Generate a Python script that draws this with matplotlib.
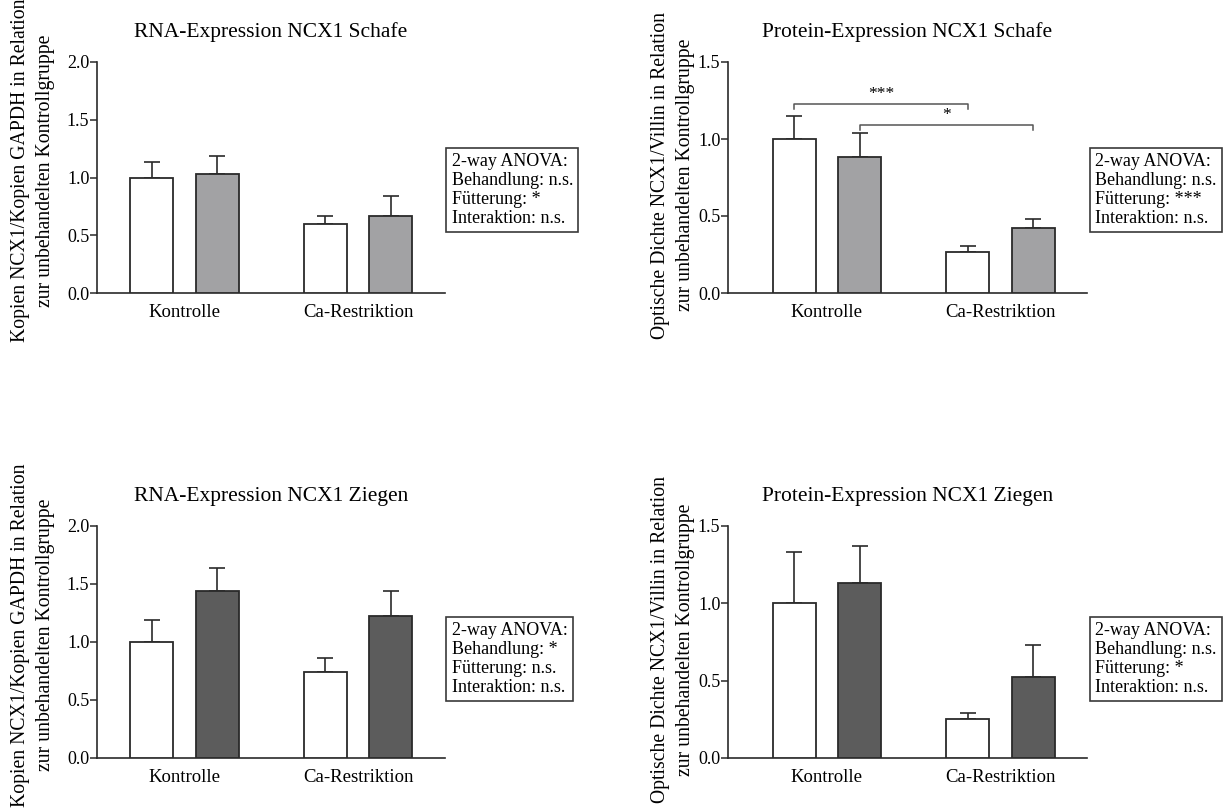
import numpy as np
import matplotlib
matplotlib.use("Agg")
import matplotlib.pyplot as plt

plt.rcParams['font.family'] = ['Liberation Serif', 'DejaVu Serif']

groups = ['Kontrolle', 'Ca-Restriktion']

# order per group: unbehandelt (white), behandelt (gray)
rna_schafe = [1.00, 1.03, 0.60, 0.67]
rna_schafe_err = [0.13, 0.16, 0.07, 0.17]
prot_schafe = [1.00, 0.88, 0.263, 0.42]
prot_schafe_err = [0.15, 0.156, 0.041, 0.063]
rna_ziegen = [1.00, 1.44, 0.743, 1.221]
rna_ziegen_err = [0.19, 0.20, 0.121, 0.219]
prot_ziegen = [1.00, 1.133, 0.255, 0.523]
prot_ziegen_err = [0.334, 0.24, 0.039, 0.209]

anova_rna_schafe = ['2-way ANOVA:', 'Behandlung: n.s.', 'Fütterung: *', 'Interaktion: n.s.']
anova_prot_schafe = ['2-way ANOVA:', 'Behandlung: n.s.', 'Fütterung: ***', 'Interaktion: n.s.']
anova_rna_ziegen = ['2-way ANOVA:', 'Behandlung: *', 'Fütterung: n.s.', 'Interaktion: n.s.']
anova_prot_ziegen = ['2-way ANOVA:', 'Behandlung: n.s.', 'Fütterung: *', 'Interaktion: n.s.']

# significance brackets (bar index a, bar index b, height, label)
sig_prot_schafe = [(0, 2, 1.23, '***'), (1, 3, 1.094, '*')]

lbl_rna = 'Kopien NCX1/Kopien GAPDH in Relation\nzur unbehandelten Kontrollgruppe'
lbl_prot = 'Optische Dichte NCX1/Villin in Relation\nzur unbehandelten Kontrollgruppe'

W, H = 1226, 809
fig = plt.figure(figsize=(W / 100, H / 100), dpi=100)

base_x = np.array([1.27, 2.79, 5.31, 6.83])
edge = '#2a2a2a'


def px_rect(x0, y_top, x1, y_bot):
    return [x0 / W, 1 - y_bot / H, (x1 - x0) / W, (y_bot - y_top) / H]


def panel(rect, title, vals, errs, ymax, ylab, fill, anova, box_xy, shift, xmax,
          lab_xy, sig=None):
    ax = fig.add_axes(rect)
    xpos = base_x + shift
    colors = ['white', fill, 'white', fill]
    ax.bar(xpos, vals, width=1.0, color=colors, edgecolor=edge, linewidth=1.3, zorder=3)
    ax.errorbar(xpos, vals, yerr=[np.zeros(4), errs], fmt='none', ecolor=edge,
                elinewidth=1.2, capsize=5.5, capthick=1.2, zorder=2)
    ax.set_xlim(0, xmax)
    ax.set_ylim(0, ymax)
    ticks = np.arange(0, ymax + 0.01, 0.5)
    ax.set_yticks(ticks)
    ax.set_yticklabels([f'{v:.1f}' for v in ticks])
    ax.set_xticks([(xpos[0] + xpos[1]) / 2, (xpos[2] + xpos[3]) / 2])
    ax.set_xticklabels(groups)
    ax.tick_params(axis='x', length=0, pad=8, labelsize=13.5)
    ax.tick_params(axis='y', length=5, width=1.1, color=edge, pad=0.5, labelsize=13)
    for s in ['top', 'right']:
        ax.spines[s].set_visible(False)
    for s in ['left', 'bottom']:
        ax.spines[s].set_color(edge)
        ax.spines[s].set_linewidth(1.2)
    ax.set_title(title, fontsize=15.5, pad=18)
    ax.set_ylabel(lbl_rna if ylab == 'rna' else lbl_prot, fontsize=14.2, linespacing=1.4)
    ax.yaxis.set_label_coords(*lab_xy)
    if sig:
        for a, b, h, txt in sig:
            ax.plot([xpos[a], xpos[a], xpos[b], xpos[b]], [h - 0.037, h, h, h - 0.037],
                    color='#555555', lw=1.1, zorder=4)
            ax.text((xpos[a] + xpos[b]) / 2, h + 0.01, txt, ha='center', va='bottom',
                    fontsize=12.5)
    fig.text(box_xy[0] / W, 1 - box_xy[1] / H, '\n'.join(anova), fontsize=13,
             ha='left', va='center', linespacing=1.15,
             bbox=dict(boxstyle='square,pad=0.3', fc='white', ec='#3a3a3a', lw=1.2))
    return ax


panel(px_rect(97, 62, 445, 293), 'RNA-Expression NCX1 Schafe', rna_schafe, rna_schafe_err,
      2.0, 'rna', '#a2a2a4', anova_rna_schafe, (451.5, 190), 0.0, 8.09, (-0.121, 0.53))
panel(px_rect(728, 62, 1087, 293), 'Protein-Expression NCX1 Schafe', prot_schafe,
      prot_schafe_err, 1.5, 'prot', '#a2a2a4', anova_prot_schafe, (1095, 190), 0.27, 8.35,
      (-0.092, 0.51), sig=sig_prot_schafe)
panel(px_rect(97, 526, 445, 758), 'RNA-Expression NCX1 Ziegen', rna_ziegen, rna_ziegen_err,
      2.0, 'rna', '#5c5c5c', anova_rna_ziegen, (451.5, 659), 0.0, 8.09, (-0.121, 0.53))
panel(px_rect(728, 526, 1087, 758), 'Protein-Expression NCX1 Ziegen', prot_ziegen,
      prot_ziegen_err, 1.5, 'prot', '#5c5c5c', anova_prot_ziegen, (1095, 659), 0.27, 8.35,
      (-0.092, 0.51))

fig.savefig('out.png', dpi=100)
